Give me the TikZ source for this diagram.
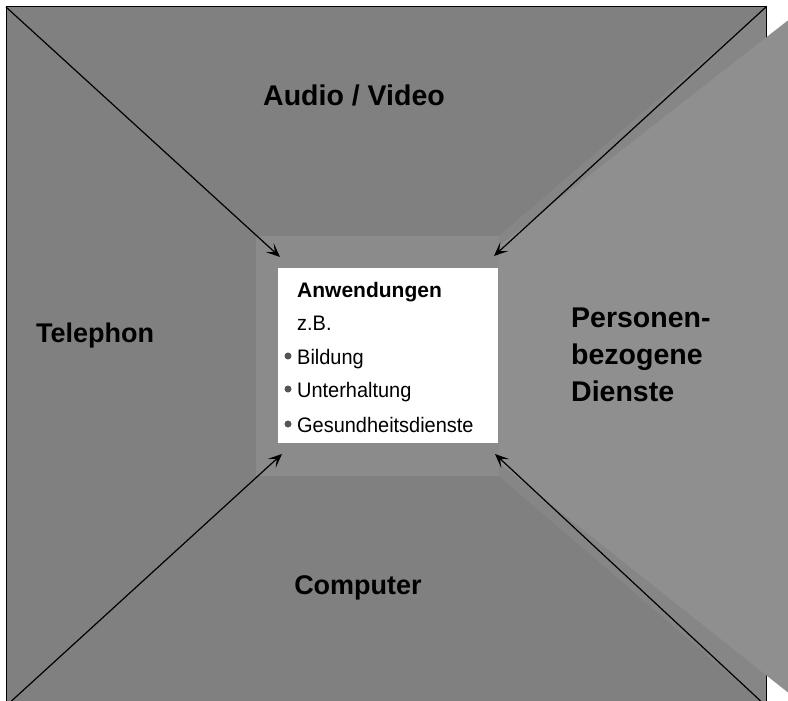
\documentclass[tikz,border=0pt]{standalone}
\usepackage{fontspec}
\setmainfont{Liberation Sans}
\newfontfamily\itemfont[FakeStretch=0.95]{Liberation Sans}
\usetikzlibrary{arrows.meta, positioning}
\definecolor{framegray}{RGB}{128,128,128}
\definecolor{bandgray}{RGB}{134,134,134}
\definecolor{centergray}{RGB}{139,139,139}
\definecolor{panelgray}{RGB}{143,143,143}
\definecolor{dotgray}{RGB}{85,85,85}
\tikzset{
  arrow/.style    = {-{Stealth[length=14pt, width=12pt, inset=7pt]}, line width=1.2pt},
  biglabel/.style = {font=\fontsize{27}{37}\selectfont\bfseries, inner sep=0pt},
  boxhead/.style  = {font=\fontsize{21}{25}\selectfont\bfseries, anchor=base west, inner sep=0pt},
  boxitem/.style  = {font=\fontsize{21}{25}\selectfont\itemfont, anchor=base west, inner sep=0pt},
  bullet/.style   = {circle, fill=dotgray, inner sep=0pt, minimum size=7pt},
}

\begin{document}
\begin{tikzpicture}[x=1pt, y=-1pt]
  \useasboundingbox (0,0) rectangle (788,701);
  \clip (0,0) rectangle (788,701);
  % outer frame
  \coordinate (tl) at (6,7);
  \coordinate (tr) at (766,7);
  \coordinate (bl) at (6,706);
  \coordinate (br) at (766,706);
  \fill[framegray] (tl) rectangle (br);
  \fill[bandgray] (tr) -- (499,236) -- (499,476) -- (br) -- cycle;
  \draw[line width=1pt] (tl) rectangle (br);
  % right panel sticking out of the frame
  \fill[panelgray] (499,246) -- (800,11) -- (800,702) -- (499,463) -- cycle;
  % centre
  \fill[centergray] (256,236) rectangle (499,476);
  \node[fill=white, minimum width=220pt, minimum height=175pt, inner sep=0pt] (app) at (388,355.5) {};
  \node[boxhead] (head) at (297,297) {Anwendungen};
  \node[boxitem] (zb) at (297,330) {z.B.};
  \foreach \n/\y/\t in {bild/364/Bildung, unter/397/Unterhaltung, gesund/432/Gesundheitsdienste} {
    \node[boxitem] (\n) at (297,\y) {\t};
    \node[bullet] (\n dot) at (288,{\y-8}) {};
  }
  % arrows into the centre
  \coordinate (atl) at (280,257);
  \coordinate (atr) at (494,256);
  \coordinate (abl) at (282,454);
  \coordinate (abr) at (495,454);
  \foreach \s/\t in {tl/atl, tr/atr, bl/abl, br/abr}
    \draw[arrow] (\s) -- (\t);
  % labels
  \node[biglabel, font=\fontsize{28.5}{37}\selectfont\bfseries] (audio) at (354,95) {Audio / Video};
  \node[biglabel] (tel) at (95,336) {Telephon};
  \node[biglabel] (comp) at (358,588) {Computer};
  \node[biglabel, font=\fontsize{28.5}{37}\selectfont\bfseries, anchor=north west, align=left] (pers) at (571,308) {Personen-\\bezogene\\Dienste};
\end{tikzpicture}
\end{document}
